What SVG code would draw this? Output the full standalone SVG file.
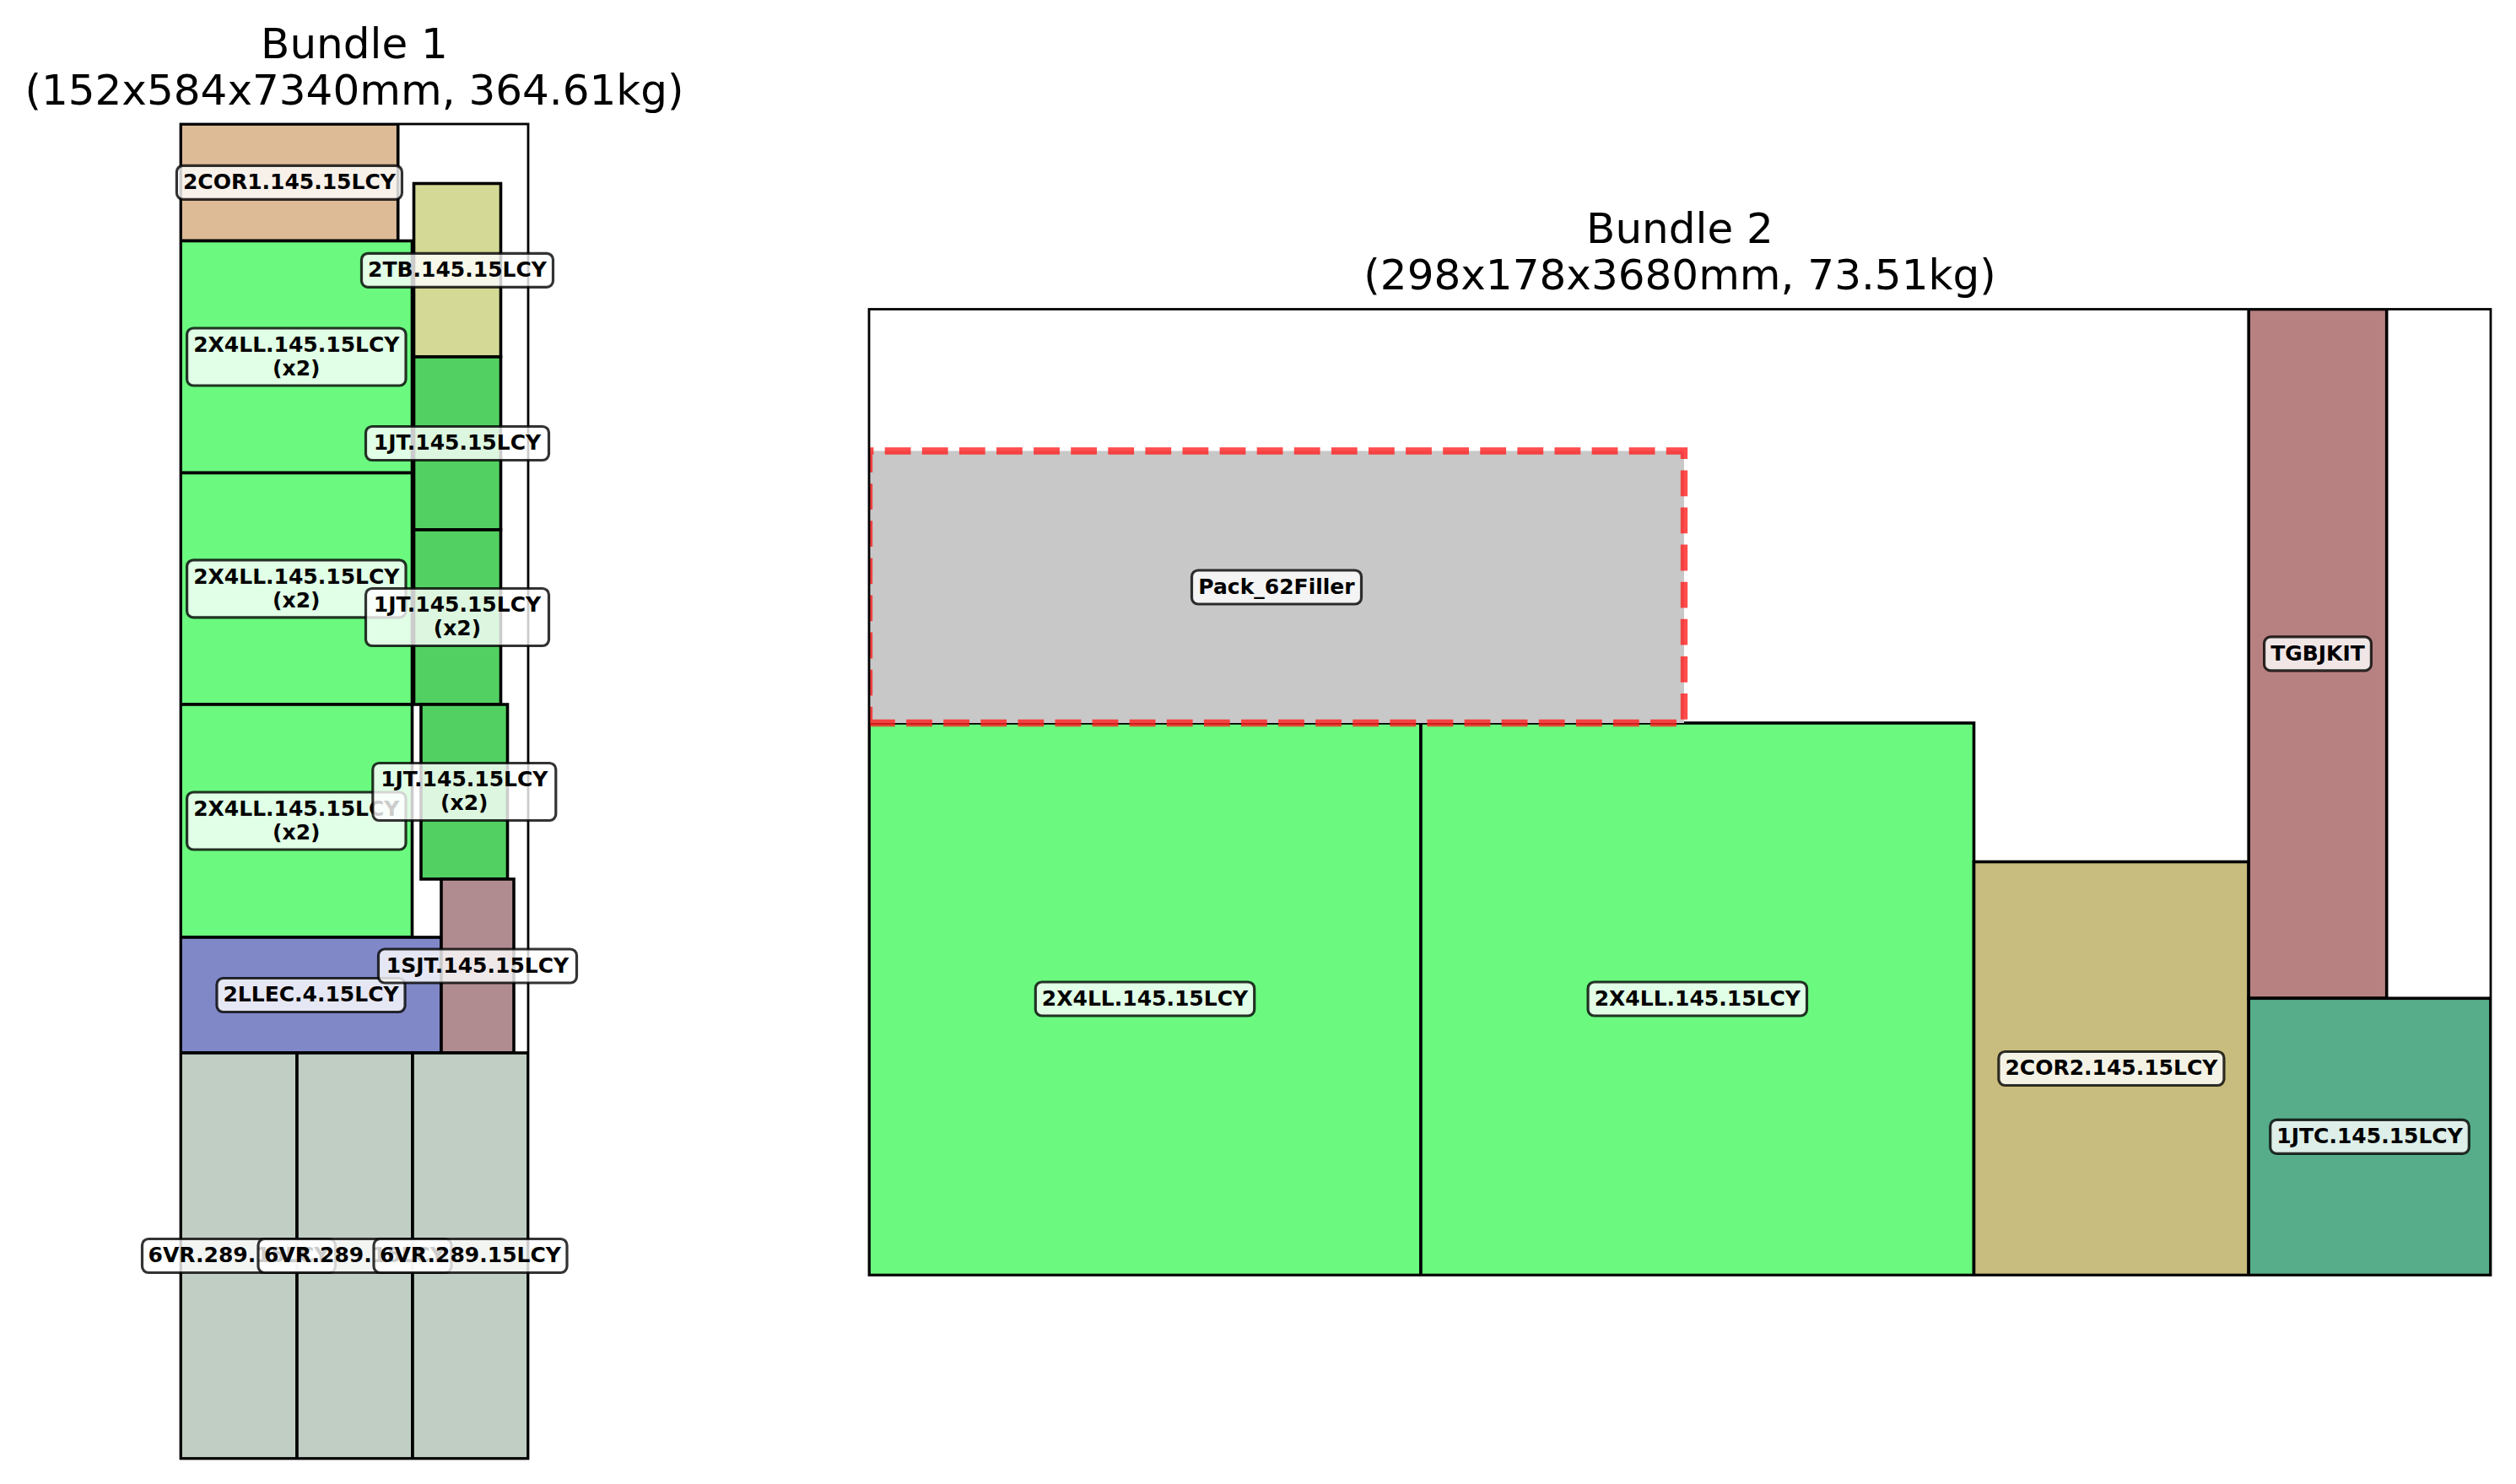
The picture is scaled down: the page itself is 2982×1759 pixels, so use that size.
<svg xmlns="http://www.w3.org/2000/svg" width="2982" height="1759" viewBox="0 0 2982 1759">
  <style>
    .title { font-family: "DejaVu Sans", "Liberation Sans", sans-serif; font-size: 50px; fill: #000; text-anchor: middle; }
    .item { stroke: #000; stroke-width: 3.6; }
    .spine { fill: none; stroke: #000; stroke-width: 2.8; }
    .lbox { fill: #fff; fill-opacity: 0.8; stroke: #000; stroke-opacity: 0.8; stroke-width: 3.2; }
    .ltxt { font-family: "DejaVu Sans", "Liberation Sans", sans-serif; font-size: 25px; font-weight: bold; fill: #000; text-anchor: middle; }
    .filler { fill: #c8c8c8; }
    .dash { fill: none; stroke: #ff1f1f; stroke-opacity: 0.8; stroke-width: 8.3; stroke-dasharray: 30.8 13.3; }
  </style>
  <defs>
    <clipPath id="clip1"><rect x="214" y="147" width="412" height="1582"/></clipPath>
    <clipPath id="clip2"><rect x="1030" y="366.5" width="1922" height="1145"/></clipPath>
  </defs>
  <rect x="0" y="0" width="2982" height="1759" fill="#fff"/>

  <!-- Bundle 1 -->
  <g id="bundle1">
    <text class="title" x="420" y="68.5">Bundle 1</text>
    <text class="title" x="420" y="123.5">(152x584x7340mm, 364.61kg)</text>
    <g id="bundle1-items" clip-path="url(#clip1)">
      <rect id="b1-2cor1" class="item" x="214" y="147" width="257.7" height="138.5" fill="#ddbb97"/>
      <rect id="b1-2tb" class="item" x="490.5" y="217.5" width="103" height="205.5" fill="#d4d995"/>
      <rect id="b1-2x4ll-a" class="item" x="214" y="285.5" width="274.5" height="275" fill="#6bf980"/>
      <rect id="b1-1jt-a" class="item" x="490.5" y="423" width="103" height="205" fill="#52d162"/>
      <rect id="b1-2x4ll-b" class="item" x="214" y="560.5" width="274.5" height="274.5" fill="#6bf980"/>
      <rect id="b1-1jt-b" class="item" x="490.5" y="628" width="103" height="207" fill="#52d162"/>
      <rect id="b1-2x4ll-c" class="item" x="214" y="835" width="274.5" height="276" fill="#6bf980"/>
      <rect id="b1-1jt-c" class="item" x="499" y="835" width="102.5" height="207" fill="#52d162"/>
      <rect id="b1-2llec" class="item" x="214" y="1111" width="309" height="137" fill="#8088c8"/>
      <rect id="b1-1sjt" class="item" x="523" y="1042" width="86" height="206" fill="#b08c90"/>
      <rect id="b1-6vr-a" class="item" x="214" y="1248" width="138" height="481" fill="#c0cec3"/>
      <rect id="b1-6vr-b" class="item" x="352" y="1248" width="137" height="481" fill="#c0cec3"/>
      <rect id="b1-6vr-c" class="item" x="489" y="1248" width="137" height="481" fill="#c0cec3"/>
    </g>
    <rect class="spine" x="214" y="147" width="412" height="1582"/>
    <g id="bundle1-labels">
      <g id="l1-2cor1"><rect class="lbox" x="209.4" y="196.3" width="267" height="40" rx="7.5"/><text class="ltxt" x="342.9" y="224.1">2COR1.145.15LCY</text></g>
      <g id="l1-2tb"><rect class="lbox" x="428.5" y="300.3" width="227" height="40" rx="7.5"/><text class="ltxt" x="542" y="328.1">2TB.145.15LCY</text></g>
      <g id="l1-2x4ll-a"><rect class="lbox" x="221.6" y="389" width="259.4" height="68" rx="7.5"/><text class="ltxt" x="351.3" y="416.8">2X4LL.145.15LCY</text><text class="ltxt" x="351.3" y="444.8">(x2)</text></g>
      <g id="l1-1jt-a"><rect class="lbox" x="433.5" y="505.5" width="217" height="40" rx="7.5"/><text class="ltxt" x="542" y="533.3">1JT.145.15LCY</text></g>
      <g id="l1-2x4ll-b"><rect class="lbox" x="221.6" y="663.8" width="259.4" height="68" rx="7.5"/><text class="ltxt" x="351.3" y="691.6">2X4LL.145.15LCY</text><text class="ltxt" x="351.3" y="719.6">(x2)</text></g>
      <g id="l1-1jt-b"><rect class="lbox" x="433.5" y="697.5" width="217" height="68" rx="7.5"/><text class="ltxt" x="542" y="725.3">1JT.145.15LCY</text><text class="ltxt" x="542" y="753.3">(x2)</text></g>
      <g id="l1-2x4ll-c"><rect class="lbox" x="221.6" y="939" width="259.4" height="68" rx="7.5"/><text class="ltxt" x="351.3" y="966.8">2X4LL.145.15LCY</text><text class="ltxt" x="351.3" y="994.8">(x2)</text></g>
      <g id="l1-1jt-c"><rect class="lbox" x="441.8" y="904.5" width="217" height="68" rx="7.5"/><text class="ltxt" x="550.3" y="932.3">1JT.145.15LCY</text><text class="ltxt" x="550.3" y="960.3">(x2)</text></g>
      <g id="l1-2llec"><rect class="lbox" x="257" y="1159.5" width="223" height="40" rx="7.5"/><text class="ltxt" x="368.5" y="1187.3">2LLEC.4.15LCY</text></g>
      <g id="l1-1sjt"><rect class="lbox" x="448.5" y="1125" width="235" height="40" rx="7.5"/><text class="ltxt" x="566" y="1152.8">1SJT.145.15LCY</text></g>
      <g id="l1-6vr-a"><rect class="lbox" x="168.5" y="1468.5" width="229" height="40" rx="7.5"/><text class="ltxt" x="283" y="1496.3">6VR.289.15LCY</text></g>
      <g id="l1-6vr-b"><rect class="lbox" x="306" y="1468.5" width="229" height="40" rx="7.5"/><text class="ltxt" x="420.5" y="1496.3">6VR.289.15LCY</text></g>
      <g id="l1-6vr-c"><rect class="lbox" x="443" y="1468.5" width="229" height="40" rx="7.5"/><text class="ltxt" x="557.5" y="1496.3">6VR.289.15LCY</text></g>
    </g>
  </g>

  <!-- Bundle 2 -->
  <g id="bundle2">
    <text class="title" x="1991" y="287.5">Bundle 2</text>
    <text class="title" x="1991" y="342.5">(298x178x3680mm, 73.51kg)</text>
    <g id="bundle2-items" clip-path="url(#clip2)">
      <rect id="b2-2x4ll-a" class="item" x="1030" y="857" width="654" height="654.5" fill="#6bf980"/>
      <rect id="b2-2x4ll-b" class="item" x="1684" y="857" width="655.5" height="654.5" fill="#6bf980"/>
      <rect id="b2-2cor2" class="item" x="2339.5" y="1021.5" width="325.7" height="490" fill="#c8bc7e"/>
      <rect id="b2-tgbjkit" class="item" x="2665.2" y="366.5" width="163.5" height="816.8" fill="#b88181"/>
      <rect id="b2-1jtc" class="item" x="2665.2" y="1183.3" width="286.8" height="328.2" fill="#57ad8a"/>
      <g id="b2-filler">
        <rect class="filler" x="1030" y="534.5" width="966" height="322.5"/>
        <path class="dash" d="M1030,857 H1996 V534.5 H1030 Z"/>
      </g>
    </g>
    <rect class="spine" x="1030" y="366.5" width="1922" height="1145"/>
    <g id="bundle2-labels">
      <g id="l2-2x4ll-a"><rect class="lbox" x="1227.3" y="1164" width="259.4" height="40" rx="7.5"/><text class="ltxt" x="1357" y="1191.8">2X4LL.145.15LCY</text></g>
      <g id="l2-2x4ll-b"><rect class="lbox" x="1882.1" y="1164" width="259.4" height="40" rx="7.5"/><text class="ltxt" x="2011.8" y="1191.8">2X4LL.145.15LCY</text></g>
      <g id="l2-2cor2"><rect class="lbox" x="2368.9" y="1246.5" width="267" height="40" rx="7.5"/><text class="ltxt" x="2502.4" y="1274.3">2COR2.145.15LCY</text></g>
      <g id="l2-tgbjkit"><rect class="lbox" x="2683.6" y="754.9" width="126.8" height="40" rx="7.5"/><text class="ltxt" x="2747" y="782.7">TGBJKIT</text></g>
      <g id="l2-1jtc"><rect class="lbox" x="2690.8" y="1327.4" width="235.5" height="40" rx="7.5"/><text class="ltxt" x="2808.6" y="1355.2">1JTC.145.15LCY</text></g>
      <g id="l2-filler"><rect class="lbox" x="1412.5" y="676" width="201" height="40" rx="7.5"/><text class="ltxt" x="1513" y="703.8">Pack_62Filler</text></g>
    </g>
  </g>
</svg>
